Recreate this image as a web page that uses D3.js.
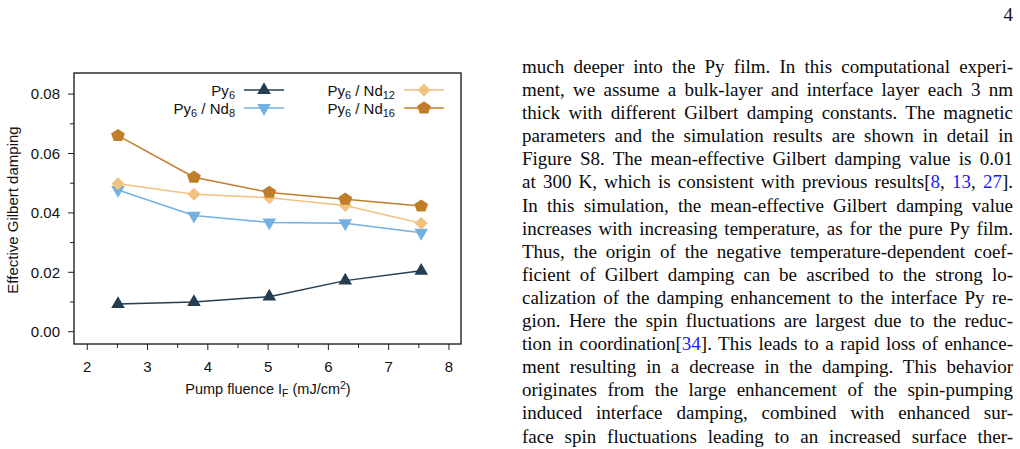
<!DOCTYPE html>
<html>
<head>
<meta charset="utf-8">
<script src="https://cdn.jsdelivr.net/npm/d3@7"></script>
<style>
    body { margin: 0; background: #fff; width: 1020px; height: 449px; overflow: hidden; position: relative; }
    svg { position: absolute; left: 0; top: 0; }
    #text {
        position: absolute; left: 522px; top: 55px; width: 491px;
        font-family: "Liberation Serif", "Times New Roman", serif;
        font-size: 19px; line-height: 23.1px; color: #0a0a0a;
    }
    #text div { text-align: justify; text-align-last: justify; white-space: nowrap; }
    #text a { color: #1a1aff; text-decoration: none; }
    #pagenum {
        position: absolute; right: 7px; top: 4px;
        font-family: "Liberation Serif", serif; font-size: 19px; color: #111;
    }
</style>
</head>
<body>
<div id="pagenum">4</div>
<div id="text"></div>
<script>
// pump fluence (mJ/cm^2)
const fluence = [2.51, 3.77, 5.02, 6.28, 7.54];
// effective gilbert damping per sample
const py6 = [0.0093, 0.0100, 0.0118, 0.0172, 0.0205];
const py6nd8 = [0.0477, 0.0391, 0.0368, 0.0365, 0.0333];
const py6nd12 = [0.0498, 0.0463, 0.0451, 0.0425, 0.0365];
const py6nd16 = [0.0660, 0.0520, 0.0469, 0.0446, 0.0423];

const xTicks = [2, 3, 4, 5, 6, 7, 8];
const xMinor = [2.5, 3.5, 4.5, 5.5, 6.5, 7.5];
const yTicks = [0, 0.02, 0.04, 0.06, 0.08];
const yMinor = [0.01, 0.03, 0.05, 0.07];

// text lines of the page (right column)
const lines = [
    "much deeper into the Py film. In this computational experi-",
    "ment, we assume a bulk-layer and interface layer each 3 nm",
    "thick with different Gilbert damping constants. The magnetic",
    "parameters and the simulation results are shown in detail in",
    "Figure S8. The mean-effective Gilbert damping value is 0.01",
    "at 300 K, which is consistent with previous results[<a>8</a>, <a>13</a>, <a>27</a>].",
    "In this simulation, the mean-effective Gilbert damping value",
    "increases with increasing temperature, as for the pure Py film.",
    "Thus, the origin of the negative temperature-dependent coef-",
    "ficient of Gilbert damping can be ascribed to the strong lo-",
    "calization of the damping enhancement to the interface Py re-",
    "gion. Here the spin fluctuations are largest due to the reduc-",
    "tion in coordination[<a>34</a>]. This leads to a rapid loss of enhance-",
    "ment resulting in a decrease in the damping. This behavior",
    "originates from the large enhancement of the spin-pumping",
    "induced interface damping, combined with enhanced sur-",
    "face spin fluctuations leading to an increased surface ther-"
];

d3.select("#text").selectAll("div")
    .data(lines)
    .enter()
    .append("div")
    .html(d => d);

// pentagon marker, d3 has none
const symbolPentagon = {
    draw(ctx, size) {
        const r = Math.sqrt(size / 2.378);
        for (let i = 0; i < 5; i++) {
            const a = -Math.PI / 2 + i * 2 * Math.PI / 5;
            const px = r * Math.cos(a), py = r * Math.sin(a) * 0.92;
            if (i === 0) ctx.moveTo(px, py); else ctx.lineTo(px, py);
        }
        ctx.closePath();
    }
};

const series = [
    { sub: "", values: py6, color: "#253d51", symbol: d3.symbolTriangle, size: 80, rot: 0 },
    { sub: "8", values: py6nd8, color: "#74b0e0", symbol: d3.symbolTriangle, size: 80, rot: 180 },
    { sub: "12", values: py6nd12, color: "#f2c27f", symbol: d3.symbolSquare, size: 85, rot: 45 },
    { sub: "16", values: py6nd16, color: "#c27d2b", symbol: symbolPentagon, size: 125, rot: 0 }
];

const width = 1020, height = 449;
const svg = d3.select("body").append("svg")
    .attr("width", width)
    .attr("height", height)
    .style("font-family", "'Liberation Sans', Arial, sans-serif");

const x = d3.scaleLinear().domain([1.78, 8.2]).range([74, 461]);
const y = d3.scaleLinear().domain([-0.00414, 0.0871]).range([344, 73]);

// ticks
const ax = svg.append("g");
ax.selectAll(".ytick").data(yTicks).enter().append("line")
    .attr("x1", 68).attr("x2", 74)
    .attr("y1", d => y(d)).attr("y2", d => y(d))
    .attr("stroke", "#222").attr("stroke-width", 1);
ax.selectAll(".yminor").data(yMinor).enter().append("line")
    .attr("x1", 70).attr("x2", 74)
    .attr("y1", d => y(d)).attr("y2", d => y(d))
    .attr("stroke", "#222").attr("stroke-width", 1);
ax.selectAll(".ylab").data(yTicks).enter().append("text")
    .attr("x", 60).attr("y", d => y(d))
    .attr("dy", "0.36em")
    .attr("text-anchor", "end")
    .attr("font-size", 15)
    .attr("fill", "#111")
    .text(d3.format(".2f"));

ax.selectAll(".xtick").data(xTicks).enter().append("line")
    .attr("x1", d => x(d)).attr("x2", d => x(d))
    .attr("y1", 344).attr("y2", 350)
    .attr("stroke", "#222").attr("stroke-width", 1);
ax.selectAll(".xminor").data(xMinor).enter().append("line")
    .attr("x1", d => x(d)).attr("x2", d => x(d))
    .attr("y1", 344).attr("y2", 348)
    .attr("stroke", "#222").attr("stroke-width", 1);
ax.selectAll(".xlab").data(xTicks).enter().append("text")
    .attr("x", d => x(d)).attr("y", 371.5)
    .attr("text-anchor", "middle")
    .attr("font-size", 15)
    .attr("fill", "#111")
    .text(d => d);

// axis titles
const xt = svg.append("text")
    .attr("x", 268).attr("y", 394)
    .attr("text-anchor", "middle")
    .attr("font-size", 14.5)
    .attr("fill", "#111");
xt.append("tspan").text("Pump fluence I");
xt.append("tspan").attr("dy", 3).attr("font-size", 10.5).text("F");
xt.append("tspan").attr("dy", -3).text(" (mJ/cm");
xt.append("tspan").attr("dy", -5).attr("font-size", 10.5).text("2");
xt.append("tspan").attr("dy", 5).text(")");

svg.append("text")
    .attr("transform", "translate(18,210) rotate(-90)")
    .attr("text-anchor", "middle")
    .attr("font-size", 15)
    .attr("fill", "#111")
    .text("Effective Gilbert damping");

// lines + markers
const line = d3.line()
    .x((d, i) => x(fluence[i]))
    .y(d => y(d));

series.forEach(s => {
    svg.append("path")
        .attr("d", line(s.values))
        .attr("fill", "none")
        .attr("stroke", s.color)
        .attr("stroke-width", 1.5);
    svg.selectAll(null).data(s.values).enter().append("path")
        .attr("d", d3.symbol().type(s.symbol).size(s.size))
        .attr("transform", (d, i) => `translate(${x(fluence[i])},${y(d)}) rotate(${s.rot})`)
        .attr("fill", s.color);
});

// legend
const legendPos = [
    { tx: 235, y: 90, lx: 244 },
    { tx: 235, y: 108, lx: 244 },
    { tx: 395, y: 90, lx: 404 },
    { tx: 395, y: 108, lx: 404 }
];
series.forEach((s, i) => {
    const p = legendPos[i];
    const t = svg.append("text")
        .attr("x", p.tx).attr("y", p.y + 5.5)
        .attr("text-anchor", "end")
        .attr("font-size", 15)
        .attr("fill", "#111");
    t.append("tspan").text("Py");
    t.append("tspan").attr("dy", 3).attr("font-size", 11).text("6");
    if (s.sub) {
        t.append("tspan").attr("dy", -3).text(" / Nd");
        t.append("tspan").attr("dy", 3).attr("font-size", 11).text(s.sub);
    }
    svg.append("line")
        .attr("x1", p.lx).attr("x2", p.lx + 40)
        .attr("y1", p.y).attr("y2", p.y)
        .attr("stroke", s.color).attr("stroke-width", 1.5);
    svg.append("path")
        .attr("d", d3.symbol().type(s.symbol).size(s.size))
        .attr("transform", `translate(${p.lx + 20},${p.y}) rotate(${s.rot})`)
        .attr("fill", s.color);
});

// frame
svg.append("rect")
    .attr("x", 74).attr("y", 73)
    .attr("width", 387).attr("height", 271)
    .attr("fill", "none")
    .attr("stroke", "#111")
    .attr("stroke-width", 1.3);
</script>
</body>
</html>
